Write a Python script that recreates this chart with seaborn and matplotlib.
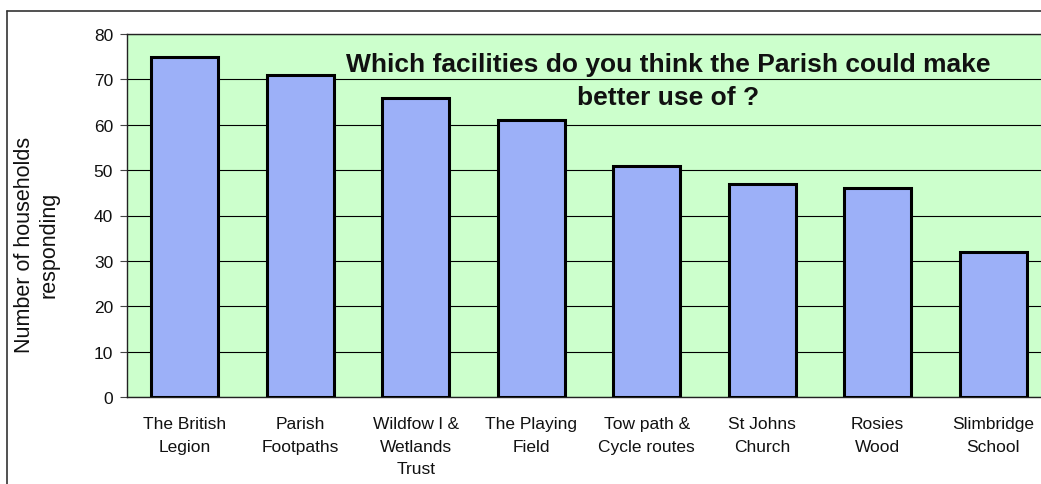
import numpy as np
import pandas as pd
import matplotlib
matplotlib.use("Agg")
import matplotlib.pyplot as plt
from matplotlib.lines import Line2D
import seaborn as sns

# values
facilities = ["The British\nLegion", "Parish\nFootpaths", "Wildfow l &\nWetlands\nTrust",
              "The Playing\nField", "Tow path &\nCycle routes", "St Johns\nChurch",
              "Rosies\nWood", "Slimbridge\nSchool"]
households = [75, 71, 66, 61, 51, 47, 46, 32]
y_ticks = [0, 10, 20, 30, 40, 50, 60, 70, 80]
title_lines = ["Which facilities do you think the Parish could make", "better use of ?"]

sns.set_style("white")
plt.rcParams['font.family'] = ['Liberation Sans', 'DejaVu Sans']

df = pd.DataFrame({"facility": facilities, "households": households})

fig = plt.figure(figsize=(10.41, 4.85), dpi=100)
W, H = 1041, 485
# plot area runs off the right edge like the original screenshot
ax = fig.add_axes([127 / W, 1 - 398 / H, 924 / W, 363 / H])
ax.set_facecolor("#ccffcc")

sns.barplot(data=df, x="facility", y="households", order=facilities,
            color="#9cb0f8", saturation=1, edgecolor="black", linewidth=2.2,
            width=0.58, ax=ax, zorder=3)

ax.set_ylim(0, 80)
ax.set_xlim(-0.5, len(facilities) - 0.5)
ax.set_yticks(y_ticks)
ax.yaxis.grid(True, color="black", linewidth=0.8)
ax.set_axisbelow(True)

# category ticks at the boundaries
ax.set_xticks(np.arange(len(facilities)))
ax.set_xticklabels(facilities, fontsize=12.5, linespacing=1.6, color="#111111")
ax.set_xticks(np.arange(-0.5, len(facilities)), minor=True)
ax.tick_params(axis="x", which="major", length=0, pad=14)
ax.tick_params(axis="x", which="minor", length=5, width=0.8, color="#444444", direction="out")
ax.tick_params(axis="y", length=5, width=0.8, color="#444444", direction="out",
               labelsize=12.5, labelcolor="#111111", pad=5, left=True)

for side in ["left", "bottom", "top"]:
    ax.spines[side].set_visible(True)
    ax.spines[side].set_color("#222222")
    ax.spines[side].set_linewidth(1)
ax.spines["right"].set_visible(False)

ax.set_xlabel("")
ax.set_ylabel("")
fig.text(37 / W, 1 - 245 / H, "Number of households\nresponding", rotation=90,
         ha="center", va="center", multialignment="center", fontsize=15.5,
         linespacing=1.2, color="#111111")

# title sits inside the plot area, two centred lines
ax.text(0.5855, 0.898, title_lines[0], transform=ax.transAxes, ha="center",
        va="baseline", fontsize=19, fontweight="bold", color="#111111", zorder=5)
ax.text(0.5855, 0.807, title_lines[1], transform=ax.transAxes, ha="center",
        va="baseline", fontsize=19, fontweight="bold", color="#111111", zorder=5)

# chart frame (only left and top edges fall inside the picture)
fig.add_artist(Line2D([7 / W, 7 / W], [0, 1 - 12 / H], transform=fig.transFigure,
                      color="#333333", linewidth=1.2))
fig.add_artist(Line2D([7 / W, 1], [1 - 12 / H, 1 - 12 / H], transform=fig.transFigure,
                      color="#333333", linewidth=1.2))

fig.savefig("out.png", dpi=100)
